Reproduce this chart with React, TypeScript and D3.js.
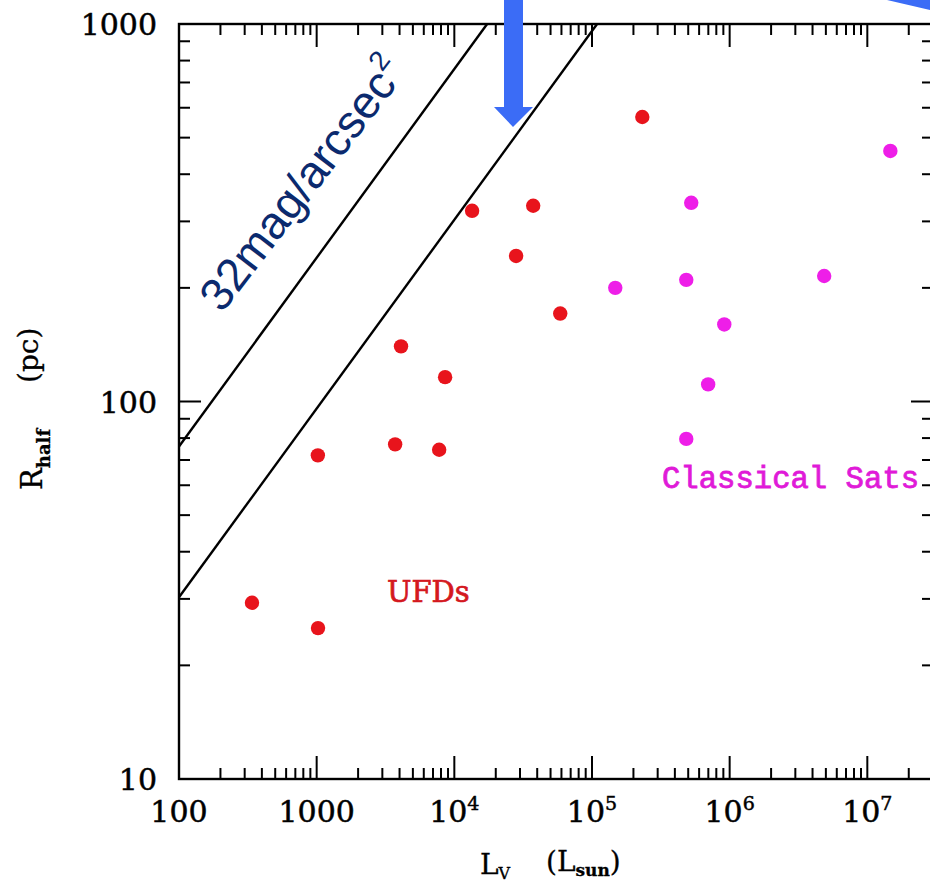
import React from "react";
import * as d3 from "d3";

const ufdL = [339, 1023, 1020, 3716, 7760, 4100, 8570, 13460, 28100, 37400, 58800, 232000];
const ufdR = [29.3, 25.1, 72, 77, 74.5, 140, 116, 320, 243, 330, 171, 567];
const satL = [147600, 484000, 526000, 914000, 698000, 484000, 4.86e6, 1.47e7];
const satR = [200, 210, 336, 160, 111, 79.6, 215, 461];
// constant surface-brightness lines: R at L=100, R ∝ L^0.5
const sbLineR100 = [76, 30.3];
const sbSlope = 0.5;
const xTickLabels = [
  { v: 100, base: "100", exp: "" },
  { v: 1000, base: "1000", exp: "" },
  { v: 1e4, base: "10", exp: "4" },
  { v: 1e5, base: "10", exp: "5" },
  { v: 1e6, base: "10", exp: "6" },
  { v: 1e7, base: "10", exp: "7" },
];
const yTickLabels = [10, 100, 1000];

const W = 930;
const H = 884;
const left = 179;
const right = 933;
const top = 24;
const bottom = 779;

export default function App() {
  const x = d3.scaleLog().domain([100, 3e7]).range([left, right]);
  const y = d3.scaleLog().domain([10, 1000]).range([bottom, top]);

  const xMinor: number[] = [];
  for (let e = 2; e <= 7; e++) for (let m = 1; m <= 9; m++) {
    const v = m * Math.pow(10, e);
    if (v <= 3e7) xMinor.push(v);
  }
  const yMinor: number[] = [];
  for (let e = 1; e <= 2; e++) for (let m = 1; m <= 9; m++) yMinor.push(m * Math.pow(10, e));
  yMinor.push(1000);

  const isMajor = (v: number) => Math.abs(Math.log10(v) - Math.round(Math.log10(v))) < 1e-9;

  const lineGen = d3.line<[number, number]>().x((d) => x(d[0])).y((d) => y(d[1]));
  const sbLines = sbLineR100.map((r0) => {
    const Lend = 100 * Math.pow(1000 / r0, 1 / sbSlope);
    return lineGen([[100, r0], [Lend, 1000]]) as string;
  });

  const serif = "DejaVu Serif, serif";
  const red = "#e8141c";
  const mag = "#ee1ee8";

  return (
    <svg width={W} height={H} style={{ position: "absolute", left: 0, top: 0, background: "#fff" }}>
      <rect x={0} y={0} width={W} height={H} fill="#fff" />
      {/* SB lines */}
      {sbLines.map((d, i) => (
        <path key={i} d={d} stroke="#000" strokeWidth={2.4} fill="none" />
      ))}
      {/* frame */}
      <rect x={left} y={top} width={right - left} height={bottom - top} fill="none" stroke="#000" strokeWidth={2.4} />
      {/* x ticks */}
      {xMinor.map((v, i) => {
        const len = isMajor(v) ? 23 : 11;
        const px = x(v);
        return (
          <g key={"xt" + i}>
            <line x1={px} x2={px} y1={bottom} y2={bottom - len} stroke="#000" strokeWidth={2} />
            <line x1={px} x2={px} y1={top} y2={top + len} stroke="#000" strokeWidth={2} />
          </g>
        );
      })}
      {yMinor.map((v, i) => {
        const len = isMajor(v) ? 22 : 11;
        const py = y(v);
        return (
          <g key={"yt" + i}>
            <line x1={left} x2={left + len} y1={py} y2={py} stroke="#000" strokeWidth={2} />
            <line x1={right} x2={right - len} y1={py} y2={py} stroke="#000" strokeWidth={2} />
          </g>
        );
      })}
      {/* x tick labels */}
      {xTickLabels.map((t, i) => (
        <text key={"xl" + i} x={x(t.v)} y={822} textAnchor="middle" fontFamily={serif} fontSize={30} fill="#000" stroke="#000" strokeWidth={0.5}>
          {t.base}
          {t.exp && (
            <tspan fontSize={19} dy={-12}>
              {t.exp}
            </tspan>
          )}
        </text>
      ))}
      {/* y tick labels */}
      {yTickLabels.map((v, i) => (
        <text key={"yl" + i} x={157} y={y(v) + 11} textAnchor="end" fontFamily={serif} fontSize={30} fill="#000" stroke="#000" strokeWidth={0.5}>
          {v}
        </text>
      ))}
      {/* axis titles */}
      <text x={480} y={874} fontFamily={serif} fontSize={28} fill="#000" stroke="#000" strokeWidth={0.3}>
        L<tspan fontSize={16} dy={5}>V</tspan>
      </text>
      <text x={546} y={871} fontFamily={serif} fontSize={28} fill="#000" stroke="#000" strokeWidth={0.3}>
        (L<tspan fontSize={17} dy={5} fontWeight="bold">sun</tspan>
        <tspan dy={-5}>)</tspan>
      </text>
      <g transform="translate(42,490) rotate(-90)">
        <text x={0} y={0} fontFamily={serif} fontSize={29} fill="#000" stroke="#000" strokeWidth={0.3}>
          R<tspan fontSize={18} dy={8} fontWeight="bold">half</tspan>
        </text>
        <text x={107} y={-4} fontFamily={serif} fontSize={28} fill="#000" stroke="#000" strokeWidth={0.3}>
          (pc)
        </text>
      </g>
      {/* points */}
      {ufdL.map((L, i) => (
        <circle key={"u" + i} cx={x(L)} cy={y(ufdR[i])} r={7.2} fill={red} />
      ))}
      {satL.map((L, i) => (
        <circle key={"s" + i} cx={x(L)} cy={y(satR[i])} r={7.2} fill={mag} />
      ))}
      {/* labels */}
      <text x={387} y={602} fontFamily={serif} fontSize={29} fill="#d41820" stroke="#d41820" strokeWidth={0.7}>
        UFDs
      </text>
      <text x={662} y={488} fontFamily="Liberation Mono, monospace" fontSize={30.6} fill="#e01ad8" stroke="#e01ad8" strokeWidth={0.8}>
        Classical Sats
      </text>
      <g transform="translate(222,314) rotate(-52.5)">
        <text x={0} y={0} fontFamily="Liberation Sans, Arial, sans-serif" fontSize={46} fill="#0b2a6e">
          32mag/arcsec<tspan fontSize={28} dy={-20}>2</tspan>
        </text>
      </g>
      {/* blue arrows */}
      <polygon points="504,0 523,0 523,107 533,107 513,127 494,107 504,107" fill="#3b6cf6" />
      <polygon points="887,0 930,0 930,10" fill="#3b6cf6" />
    </svg>
  );
}
